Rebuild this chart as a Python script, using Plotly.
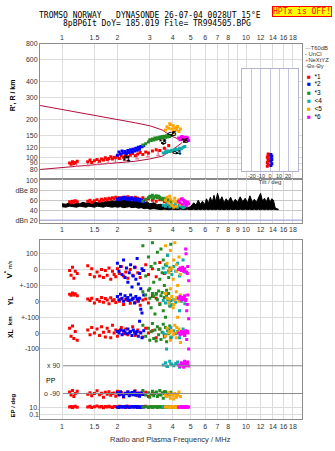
import math
import plotly.graph_objects as go

W, H = 335, 451

# ---------------- data ----------------
freq_ticks = [1, 1.5, 2, 3, 4, 5, 6, 7, 8, 9, 10, 12, 14, 16, 18]
freq_labels_mid = ["1", "1.5", "2", "3", "4", "5", "6", "7", "8", "9", "10", "12", "14", "16", "18"]
freq_ticks_edge = [1, 1.5, 2, 3, 4, 5, 6, 7, 8, 10, 12, 14, 16, 18]
freq_labels_edge = ["1", "1.5", "2", "3", "4", "5", "6", "7", "8", "10", "12", "14", "16", "18"]
range_ticks = [80, 90, 100, 120, 150, 200, 300, 400, 600, 800]
dbe_ticks = [20, 40, 60, 80, 100]
dbe_labels = ["dBn 20", "40", "60", "dBe 80", "100"]
tilt_ticks = [-20, -10, 0, 10, 20]
tilt_labels = ["-20", "-10", "0", "10", "20"]

# model curves in the range panel
curve_f = [0.76, 1.0, 1.5, 2.0, 2.5, 3.0, 3.5, 3.9, 4.2, 4.5]
curve_upper_R = [258, 240, 218, 201, 188, 178, 165, 148, 141, 136]
curve_lower_R = [80, 83, 87, 90, 93, 97, 102, 112, 121, 131]

# NeXtYZ markers
nx_f = [1.20, 1.38, 1.57, 1.78, 1.95, 2.20, 2.56, 2.93, 3.33, 3.65]
nx_R = [88, 89, 91, 93.5, 95, 98.5, 101, 105, 108, 112]

# unclassified echoes
uncl_f = [2.18, 2.25, 2.30, 2.22, 3.50, 3.60, 3.55, 3.95, 4.00, 4.60, 4.70, 4.20]
uncl_R = [96, 100, 94, 102, 130, 135, 128, 150, 156, 133, 138, 108]

# noise / amplitude envelope (dB)
noise_f = [1.00, 1.05, 1.10, 1.15, 1.20, 1.25, 1.30, 1.35, 1.40, 1.45, 1.50, 1.56, 1.62, 1.68, 1.74, 1.80,
           1.87, 1.94, 2.00, 2.08, 2.16, 2.24, 2.32, 2.40, 2.50, 2.60, 2.70, 2.80, 2.90, 3.00, 3.15, 3.30,
           3.45, 3.60, 3.80, 4.00, 4.20, 4.40, 4.60, 4.80, 5.00, 5.20, 5.35, 5.50, 5.65, 5.80, 5.95, 6.10,
           6.25, 6.40, 6.55, 6.70, 6.85, 7.00, 7.20, 7.40, 7.60, 7.80, 8.00, 8.25, 8.50, 8.75, 9.00, 9.30,
           9.60, 9.90, 10.2, 10.5, 10.8, 11.1, 11.4, 11.7, 12.0, 12.3, 12.6, 12.9, 13.2, 13.5, 13.8, 14.1,
           14.4, 14.7, 15.0]
noise_hi = [53, 52, 55, 52, 54, 53, 56, 54, 55, 53, 56, 55, 57, 56, 58, 57,
            59, 58, 60, 59, 61, 59, 60, 58, 59, 57, 58, 55, 57, 53, 55, 51,
            52, 49, 50, 47, 48, 46, 47, 45, 47, 55, 50, 60, 52, 58, 51, 63,
            54, 66, 56, 70, 57, 74, 58, 67, 55, 63, 57, 66, 55, 62, 56, 67,
            57, 64, 55, 69, 57, 62, 56, 66, 74, 58, 64, 57, 66, 56, 63, 60,
            45, 43, 42]
noise_lo = [47, 46, 48, 47, 46, 48, 47, 46, 48, 47, 46, 48, 47, 46, 48, 47,
            46, 47, 46, 47, 45, 46, 47, 45, 46, 44, 45, 43, 44, 42, 43, 42,
            41, 42, 41, 42, 41, 42, 41, 42, 41, 42, 41, 42, 41, 42, 41, 42,
            41, 42, 41, 42, 41, 42, 41, 42, 41, 42, 41, 42, 41, 42, 41, 42,
            41, 42, 41, 42, 41, 42, 41, 42, 41, 42, 41, 42, 41, 42, 41, 42,
            41, 41, 41]

# echo classes: frequency, range, amplitude, V*, YL, XL, PP, EP
red_f = [1.10, 1.12, 1.14, 1.16, 1.18, 1.21, 1.38, 1.42, 1.45, 1.50, 1.55, 1.60, 1.64, 1.68, 1.72, 1.76, 1.80, 1.84, 1.88, 1.92,
         1.96, 2.00, 2.05, 2.10, 2.16, 2.22, 2.28, 2.35, 2.42, 2.50, 2.58, 2.66, 2.75, 2.85, 2.95, 3.10, 3.25, 3.40, 3.60, 3.80]
red_R = [90, 88, 92, 89, 91, 93, 92, 95, 91, 94, 96, 93, 97, 95, 99, 96, 98, 101, 97, 100,
         99, 102, 98, 103, 100, 105, 101, 104, 107, 103, 106, 109, 105, 110, 108, 112, 115, 113, 118, 124]
red_dB = [57, 55, 58, 56, 59, 57, 58, 60, 56, 59, 61, 58, 62, 60, 63, 61, 64, 62, 65, 63,
          66, 64, 65, 63, 66, 64, 67, 65, 63, 66, 64, 62, 65, 61, 63, 60, 58, 61, 57, 59]
red_V = [-5, -35, 15, -55, -10, -25, 25, -30, 5, -45, -15, -40, 0, -50, -5, -35, 10, -60, -10, -30,
         -45, 5, -25, 20, -40, -15, -55, 0, -35, 15, -20, -50, -5, 30, -30, 5, -45, 45, -25, -10]
red_YL = [45, 38, 52, 40, 48, 35, 15, 5, 20, -10, 12, 0, 25, -5, 18, 8, -15, 22, 3, 10,
          -8, 30, 0, 15, -20, 12, 5, -12, 20, -5, 10, -25, 8, 15, -10, 30, 20, -15, 25, 10]
red_XL = [30, -20, 45, -35, 10, -45, 20, -10, 35, 0, 25, -15, 40, 5, -25, 30, 10, -30, 50, 0,
          20, -20, 15, 35, -5, 25, -10, 10, 40, -15, 20, 5, -25, 30, 0, 15, -30, 25, -10, 20]
red_PP = [-80, -100, -70, -110, -90, -75, -95, -85, -105, -90, -72, -98, -88, -115, -82, -94, -78, -102, -90, -86,
          -108, -76, -96, -84, -112, -90, -80, -100, -92, -74, -104, -88, -96, -82, -110, -90, -84, -98, -78, -94]
red_EP = [12, 18, 9, 15, 22, 11, 14, 20, 10, 16, 25, 13, 19, 8, 17, 12, 21, 14, 10, 18,
          15, 11, 23, 13, 16, 9, 20, 14, 12, 17, 19, 10, 15, 22, 13, 11, 18, 16, 14, 12]

blue_f = [2.00, 2.04, 2.08, 2.12, 2.16, 2.20, 2.24, 2.28, 2.32, 2.36, 2.40, 2.44, 2.48, 2.52, 2.56, 2.60, 2.64, 2.68, 2.72, 2.78]
blue_R = [104, 110, 106, 112, 108, 111, 107, 113, 109, 115, 110, 116, 112, 118, 114, 120, 116, 122, 121, 124]
blue_dB = [62, 64, 61, 65, 63, 66, 62, 64, 61, 63, 65, 62, 60, 63, 61, 59, 62, 58, 60, 57]
blue_V = [40, -10, 20, -30, 60, -50, 10, -80, -20, 30, -110, -40, 15, -60, 70, -90, -25, -120, 5, -5]
blue_YL = [30, 10, 45, 20, 0, 35, 15, 25, 5, 40, 10, 20, -10, 30, 15, 0, 20, -50, -73, 40]
blue_XL = [10, 0, 20, -10, 15, 5, -5, 25, 0, 10, -15, 20, 5, -5, 10, -20, 75, 0, -30, 15]
blue_PP = [-85, -100, -78, -95, -110, -88, -92, -80, -105, -90, -84, -98, -76, -102, -90, -86, -108, -94, -82, -96]
blue_EP = [14, 10, 18, 12, 16, 11, 20, 13, 9, 15, 17, 12, 14, 19, 10, 16, 13, 11, 15, 12]

green_f = [2.75, 2.85, 2.95, 3.00, 3.05, 3.10, 3.15, 3.20, 3.25, 3.30, 3.35, 3.40, 3.45, 3.50, 3.55, 3.60, 3.65, 3.70, 3.75, 3.80, 3.85, 3.90]
green_R = [125, 128, 132, 138, 136, 140, 137, 142, 139, 143, 141, 145, 142, 146, 143, 147, 144, 148, 145, 150, 146, 149]
green_dB = [58, 62, 65, 68, 66, 70, 64, 67, 69, 65, 68, 66, 63, 61, 64, 62, 60, 63, 58, 61, 59, 57]
green_V = [150, -40, 80, -120, 20, 170, -80, 40, -150, 110, 0, -60, 130, -20, 60, -100, 30, -130, 90, -50, 10, 160]
green_YL = [60, 40, 70, 20, -40, 50, 30, -80, 45, 10, 65, -20, 35, 55, -60, 25, -100, 40, 15, 50, -30, 5]
green_XL = [50, -20, 30, -45, 10, 60, -35, 20, -50, 40, -10, 25, -40, 5, 55, -25, 35, -55, 15, -5, 45, -30]
green_PP = [-70, -100, -85, -115, -95, -75, -105, -90, -80, -110, -95, -70, -100, -85, -120, -90, -78, -105, -92, -88, -100, -82]
green_EP = [12, 16, 10, 14, 19, 11, 15, 13, 17, 10, 12, 18, 14, 11, 16, 13, 15, 10, 12, 17, 14, 11]

teal_f = [3.55, 3.65, 3.75, 3.85, 3.95, 4.05, 4.15, 4.25, 4.35, 4.45, 4.55, 4.65, 3.70, 3.90]
teal_R = [108, 110, 112, 111, 114, 113, 116, 115, 118, 117, 120, 122, 109, 112]
teal_dB = [50, 48, 52, 47, 51, 49, 53, 46, 50, 48, 45, 47, 52, 49]
teal_V = [10, -20, 90, 0, -30, 20, -10, 40, -40, 5, 60, -15, 25, -5]
teal_YL = [5, -10, 15, 0, -20, 10, -5, 20, -60, 0, 10, -15, 25, -30]
teal_XL = [0, -10, 20, 5, -25, 15, -5, 10, -30, 0, 25, -15, -100, 35]
teal_PP = [95, 110, 85, 120, 100, 90, 105, 115, 80, 100, 95, 110, 88, 102]
teal_EP = [13, 11, 16, 12, 14, 10, 15, 12, 17, 11, 13, 14, 12, 10]

orange_f = [3.65, 3.72, 3.80, 3.88, 3.95, 4.02, 4.10, 4.18, 4.25, 4.32, 4.40, 3.85, 4.05, 4.20]
orange_R = [165, 175, 170, 182, 168, 178, 172, 165, 176, 160, 168, 185, 162, 170]
orange_dB = [60, 66, 55, 62, 50, 58, 64, 48, 56, 61, 52, 68, 46, 57]
orange_V = [150, 40, -20, 120, 10, -60, 170, 30, -100, 80, -30, 0, 60, -10]
orange_YL = [50, 20, -10, 80, 30, -40, 10, 60, -100, 0, 40, 15, -20, 25]
orange_XL = [-20, 30, 0, -45, 15, -10, 50, -30, 5, 25, -60, 10, -5, 35]
orange_PP = [-100, -110, -85, -120, -95, -105, -90, -115, -100, -80, -110, -95, -125, -100]
orange_EP = [12, 15, 10, 14, 11, 16, 13, 12, 10, 15, 11, 14, 13, 12]

magenta_f = [4.30, 4.38, 4.45, 4.52, 4.58, 4.64, 4.70, 4.76, 4.82, 4.88, 4.50, 4.62, 4.72, 4.80]
magenta_R = [142, 138, 145, 140, 143, 139, 144, 137, 141, 136, 146, 140, 138, 143]
magenta_dB = [58, 55, 62, 52, 60, 54, 57, 50, 56, 53, 63, 59, 51, 55]
magenta_V = [0, 10, -5, 15, -10, 5, 130, -15, 20, -70, 8, -3, 100, -25]
magenta_YL = [20, 30, 10, 25, 15, 35, 5, -60, 40, -110, 18, 28, 12, -20]
magenta_XL = [0, -10, 10, -5, 5, -15, 15, -40, 0, -100, 8, -8, 4, 12]
magenta_PP = [95, 85, 110, 100, 80, 120, 90, 105, 115, 88, 98, 108, 92, 102]
magenta_EP = [11, 14, 12, 16, 10, 13, 15, 12, 11, 14, 13, 10, 12, 15]

# tilt inset
tilt_red_x = [-3, -2, -3, -2, -2, -3, -2, -2]
tilt_red_R = [85, 88, 91, 94, 97, 100, 103, 106]
tilt_blue_x = [1, 2, 1, 2, 1, 2, 1]
tilt_blue_R = [86, 89, 93, 96, 99, 102, 105]

series = [
    ("*1", "#ff0000", red_f, red_R, red_dB, red_V, red_YL, red_XL, red_PP, red_EP),
    ("*2", "#0000ff", blue_f, blue_R, blue_dB, blue_V, blue_YL, blue_XL, blue_PP, blue_EP),
    ("*3", "#228b22", green_f, green_R, green_dB, green_V, green_YL, green_XL, green_PP, green_EP),
    ("<4", "#10aaaa", teal_f, teal_R, teal_dB, teal_V, teal_YL, teal_XL, teal_PP, teal_EP),
    ("<5", "#ffa500", orange_f, orange_R, orange_dB, orange_V, orange_YL, orange_XL, orange_PP, orange_EP),
    ("*6", "#ff00ff", magenta_f, magenta_R, magenta_dB, magenta_V, magenta_YL, magenta_XL, magenta_PP, magenta_EP),
]

# ---------------- layout helpers ----------------
def fx(p):
    return p / W

def fy(p):
    return 1 - p / H

X_DOM = [fx(40), fx(302)]
TOP_DOM = [fy(177), fy(40)]
DBE_DOM = [fy(221), fy(177)]
LOW_DOM = [fy(419), fy(238)]
XRANGE = [-0.1196, 1.3043]

GRID = "#dcdcdc"
FRAME = "#8c8c8c"
TXT = "#333333"
SANS = "Liberation Sans, Arial, sans-serif"
MONO = "DejaVu Sans Mono, monospace"

fig = go.Figure()

MS = 3
# range panel
fig.add_trace(go.Scatter(x=curve_f, y=curve_upper_R, mode="lines", line=dict(color="#b0103c", width=1), xaxis="x", yaxis="y"))
fig.add_trace(go.Scatter(x=curve_f, y=curve_lower_R, mode="lines", line=dict(color="#b0103c", width=1), xaxis="x", yaxis="y"))
fig.add_trace(go.Scatter(x=nx_f, y=nx_R, mode="markers", marker=dict(size=1, color="#e0608c"),
                         error_y=dict(type="percent", value=4, width=2, thickness=1, color="#e0608c"),
                         xaxis="x", yaxis="y"))
for name, col, f, R, dB, V, YL, XL, PP, EP in series:
    fig.add_trace(go.Scatter(x=f, y=R, mode="markers", marker=dict(size=MS, color=col, symbol="square"), xaxis="x", yaxis="y"))
fig.add_trace(go.Scatter(x=uncl_f, y=uncl_R, mode="markers", marker=dict(size=2, color="black", symbol="square"), xaxis="x", yaxis="y"))

# amplitude panel
fig.add_trace(go.Scatter(x=noise_f, y=noise_lo, mode="lines", line=dict(color="black", width=1), xaxis="x2", yaxis="y2"))
fig.add_trace(go.Scatter(x=noise_f, y=noise_hi, mode="lines", line=dict(color="black", width=1), fill="tonexty",
                         fillcolor="black", xaxis="x2", yaxis="y2"))
for name, col, f, R, dB, V, YL, XL, PP, EP in series:
    fig.add_trace(go.Scatter(x=f, y=dB, mode="markers", marker=dict(size=MS, color=col, symbol="square"), xaxis="x2", yaxis="y2"))

# lower panel: V*, YL, XL, PP, EP
for name, col, f, R, dB, V, YL, XL, PP, EP in series:
    for vals, ya in ((V, "y3"), (YL, "y4"), (XL, "y5"), (PP, "y6"), (EP, "y7")):
        fig.add_trace(go.Scatter(x=f, y=vals, mode="markers", marker=dict(size=MS, color=col, symbol="square"),
                                 xaxis="x3", yaxis=ya))

# tilt inset
fig.add_trace(go.Scatter(x=tilt_red_x, y=tilt_red_R, mode="markers", marker=dict(size=3, color="#ff0000", symbol="square"), xaxis="x4", yaxis="y8"))
fig.add_trace(go.Scatter(x=tilt_blue_x, y=tilt_blue_R, mode="markers", marker=dict(size=3, color="#0000ff", symbol="square"), xaxis="x4", yaxis="y8"))

tickfont = dict(family=SANS, size=7, color=TXT)
common_x = dict(domain=X_DOM, type="log", range=XRANGE, showgrid=True, gridcolor=GRID,
                showline=True, linecolor=FRAME, mirror=True, ticks="", tickfont=tickfont, zeroline=False,
                tickangle=0)
edge_x = dict(common_x, tickvals=freq_ticks_edge, ticktext=freq_labels_edge,
              minor=dict(tickvals=[9], showgrid=True, gridcolor=GRID, ticks=""))

fig.update_layout(
    width=W, height=H, margin=dict(l=0, r=0, t=0, b=0), showlegend=False,
    paper_bgcolor="white", plot_bgcolor="white",
    xaxis=dict(edge_x, anchor="y", side="top"),
    yaxis=dict(domain=TOP_DOM, type="log", range=[1.824, 2.903], tickvals=range_ticks,
               ticktext=[str(v) for v in range_ticks], showgrid=True, gridcolor=GRID, showline=True,
               linecolor=FRAME, mirror=True, ticks="", tickfont=tickfont, anchor="x"),
    xaxis2=dict(common_x, anchor="y2", side="bottom", tickvals=freq_ticks, ticktext=freq_labels_mid),
    yaxis2=dict(domain=DBE_DOM, range=[14, 102], tickvals=dbe_ticks, ticktext=dbe_labels, showgrid=True,
                gridcolor="#c8c8c8", showline=True, linecolor=FRAME, mirror=True, ticks="", tickfont=tickfont,
                anchor="x2", zeroline=False),
    xaxis3=dict(edge_x, anchor="y3", side="bottom"),
    yaxis3=dict(domain=LOW_DOM, range=[-943.75, 187.5], tickvals=[100, 0, -100], ticktext=["100", "0", "+-100"],
                showgrid=True, gridcolor=GRID, showline=True, linecolor=FRAME, mirror=True, ticks="",
                tickfont=tickfont, anchor="x3", zeroline=False),
    yaxis4=dict(overlaying="y3", anchor="x3", side="left", range=[-743.75, 387.5], tickvals=[0, -100],
                ticktext=["0", "+-100"], showgrid=True, gridcolor=GRID, showline=False, ticks="",
                tickfont=tickfont, zeroline=False),
    yaxis5=dict(overlaying="y3", anchor="x3", side="left", range=[-543.75, 587.5], tickvals=[0, -100],
                ticktext=["0", "-100"], showgrid=True, gridcolor=GRID, showline=False, ticks="",
                tickfont=tickfont, zeroline=False),
    yaxis6=dict(overlaying="y3", anchor="x3", side="left", range=[-257.1, 906.4], showticklabels=False,
                showgrid=False, showline=False, ticks="", zeroline=False),
    yaxis7=dict(overlaying="y3", anchor="x3", side="left", type="log", range=[-2.43, 49.29], tickvals=[10, 0.1],
                ticktext=["10.", "0.1"], showgrid=True, gridcolor=GRID, showline=False, ticks="",
                tickfont=tickfont, zeroline=False),
    xaxis4=dict(domain=[fx(242), fx(298)], range=[-31, 31], anchor="y8", tickvals=tilt_ticks, ticktext=tilt_labels,
                showgrid=True, gridcolor="#c4c4dc", showline=True, linecolor="#b4b4d0", mirror=True, ticks="",
                tickfont=dict(family=SANS, size=5.5, color=TXT), zeroline=False, tickangle=0,
                title=dict(text="Tilt / deg", font=dict(family=SANS, size=6, color=TXT), standoff=0)),
    yaxis8=dict(domain=[fy(168), fy(66)], type="log", range=[1.895, 2.698], anchor="x4", showgrid=False,
                showticklabels=False, showline=True, linecolor="#b4b4d0", mirror=True, ticks="", zeroline=False),
)

# decoration lines (PP axis lines, dBn line)
shapes = [
    dict(type="line", xref="paper", yref="y6", x0=fx(63), x1=X_DOM[1], y0=90, y1=90, line=dict(color="#8c8c8c", width=1)),
    dict(type="line", xref="paper", yref="y6", x0=fx(63), x1=X_DOM[1], y0=-90, y1=-90, line=dict(color="#8c8c8c", width=1)),
    dict(type="line", xref="paper", yref="y2", x0=X_DOM[0], x1=X_DOM[1], y0=20, y1=20, line=dict(color="#a8a8e8", width=1)),
]
fig.update_layout(shapes=shapes)

ann = []
def text(x, y, s, size=7, color=TXT, family=SANS, xanchor="center", angle=0, **kw):
    ann.append(dict(x=fx(x), y=fy(y), xref="paper", yref="paper", text=s, showarrow=False,
                    font=dict(family=family, size=size, color=color), xanchor=xanchor, yanchor="middle",
                    textangle=angle, **kw))

# header
text(150, 12, "TROMSO NORWAY   DYNASONDE 26-07-04 0028UT 15°E", size=8, color="black", family=MONO)
text(157, 20, "8pBP6It DoY= 185.019 File= TR994505.BPG", size=8, color="black", family=MONO)
text(302, 8, "HPTx is OFF!", size=8, color="#ff0000", family=MONO, bgcolor="#ffff00", bordercolor="#ff0000",
     borderwidth=1, borderpad=0)

# axis labels
text(13, 92, "<b>R', R / km</b>", size=7, color="black", angle=-90)
text(8, 268, "<b>V<sup>*</sup></b> <span style='font-size:5px'>m/s</span>", size=8, color="black", angle=-90)
text(10, 299, "<b>YL</b>", size=7, color="black", angle=-90)
text(10, 320, "<b>km</b>", size=6, color="black", angle=-90)
text(10, 332, "<b>XL</b>", size=7, color="black", angle=-90)
text(13, 405, "<b>EP / deg</b>", size=6, color="black", angle=-90)
text(44, 380, "PP", size=7, color="black", xanchor="left")
text(170, 439, "Radio and Plasma Frequency / MHz", size=7.5, color=TXT)

for lbl, val in (("x 90", 90), ("o -90", -90)):
    ann.append(dict(x=fx(62), y=val, xref="paper", yref="y6", text=lbl, showarrow=False, xanchor="right",
                    yanchor="middle", font=dict(family=SANS, size=7, color=TXT)))

# labels of echo groups in range panel
for lbl, f, R in (("*1", 2.25, 97.6), ("*3", 3.54, 132.8), ("<5", 3.96, 154), ("*6", 4.66, 135), ("<4", 4.21, 109)):
    ann.append(dict(x=math.log10(f), y=math.log10(R), xref="x", yref="y", text="<b>" + lbl + "</b>", showarrow=False,
                    font=dict(family=SANS, size=8, color="black")))

# legend
LF = 5.8
text(303, 44, "<span style='color:#909090'>—</span>T60dB", size=LF, xanchor="left")
text(303, 50, "<b>·</b> UnCl", size=LF, xanchor="left")
text(303, 56, "<span style='color:#e0608c'>+</span>NeXtYZ", size=LF, xanchor="left")
text(303, 63, "<span style='color:#e0608c'>-</span>Θx<span style='color:#6060e0'>-</span>Θy", size=LF, xanchor="left")
leg_y = [73, 80, 89, 97, 105, 114]
for (name, col, *_), yy in zip(series, leg_y):
    text(305, yy, "<span style='color:%s'>■</span>  %s" % (col, name), size=6.5, xanchor="left", color="black")

fig.update_layout(annotations=ann)
fig.write_html("out.html")
